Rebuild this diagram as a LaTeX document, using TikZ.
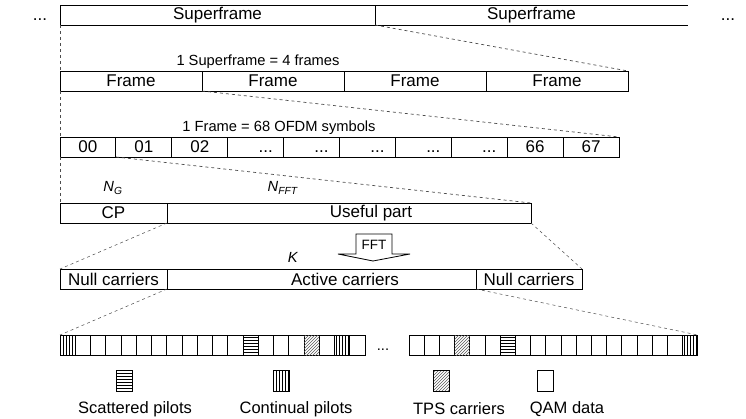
\documentclass[tikz,border=0pt]{standalone}
\usepackage{fontspec}
\setmainfont{Liberation Sans}
\usetikzlibrary{patterns}

\newcommand{\bigtxt}{\fontsize{17}{18}\selectfont}
\newcommand{\notetxt}{\fontsize{14.7}{16}\selectfont}

\begin{document}
\begin{tikzpicture}[x=1pt,y=-1pt,
  box/.style={draw,line width=0.9pt,anchor=north west,inner sep=0pt,outer sep=0pt,minimum height=20pt,font=\bigtxt},
  cell/.style={draw,line width=0.8pt,anchor=north west,inner sep=0pt,outer sep=0pt,minimum width=15.25pt,minimum height=20pt},
  scat/.style={pattern=horizontal lines},
  cont/.style={pattern=vertical lines},
  tps/.style={pattern=north east lines,pattern color=black!65},
  zoomline/.style={dashed,black!70,line width=0.7pt},
  note/.style={font=\notetxt}]
\useasboundingbox (0,0) rectangle (746,419);

% superframes
\node[box,minimum width=315pt] (sf1) at (60,5) {Superframe};
\node[box,draw=none,minimum width=313pt] (sf2) at (375,5) {Superframe};
\draw[line width=0.9pt] (sf2.north west) -- (sf2.north east) (sf2.south west) -- (sf2.south east);
\node[font=\bigtxt,anchor=base] (dotl) at (40,21) {...};
\node[font=\bigtxt,anchor=base] (dotr) at (728,21) {...};

% frames
\node[note] (sfnote) at (258,62) {1 Superframe = 4 frames};
\foreach \i in {1,...,4}
  \node[box,minimum width=142pt] (fr\i) at ({60+142*(\i-1)},71) {Frame};

% OFDM symbols
\node[note] (frnote) at (279,128) {1 Frame = 68 OFDM symbols};
\foreach \i in {1,...,10}
  \node[box,minimum width=55.9pt] (s\i) at ({60+55.9*(\i-1)},137) {};
\foreach \i/\t in {1/00,2/01,3/02,9/66,10/67}
  \node[font=\bigtxt] (lab\i) at (s\i) {\t};
\foreach \i in {4,...,8}
  \node[font=\bigtxt,anchor=base] (dots\i) at ([xshift=10pt,yshift=-6pt]s\i.center) {...};

% one symbol
\node[note] (ng) at (113,188) {\textit{N}\textsubscript{\textit{G}}};
\node[note] (nfft) at (283,188) {\textit{N}\textsubscript{\textit{FFT}}};
\node[box,minimum width=107pt] (cp) at (60,203) {CP};
\node[box,minimum width=364pt] (useful) at (167,203) {\hspace*{44pt}Useful part};

% FFT
\node[font=\fontsize{13.5}{14}\selectfont,inner sep=0pt] (fft) at (374,245) {FFT};
\draw[line width=0.8pt] (356,254) -- (356,234) -- (392,234) -- (392,254) -- (410,254) -- (373,261) -- (338,254) -- cycle;

% carriers
\node[note] (k) at (293,257) {\textit{K}};
\node[box,minimum width=107pt] (nl) at (60,269) {Null carriers};
\node[box,minimum width=309pt] (act) at (167,269) {\hspace*{47pt}Active carriers};
\node[box,minimum width=106pt] (nr) at (476,269) {Null carriers};

\foreach \i in {1,...,20}
  \node[cell] (c\i) at ({60+15.25*(\i-1)},335) {};
\foreach \i in {1,...,19}
  \node[cell,minimum width=15.2pt] (d\i) at ({409+15.2*(\i-1)},335) {};
\foreach \i/\s in {1/cont,13/scat,17/tps,19/cont}
  \fill[\s] (c\i.north west) rectangle (c\i.south east);
\foreach \i/\s in {4/tps,7/scat,19/cont}
  \fill[\s] (d\i.north west) rectangle (d\i.south east);
\node[font=\notetxt,anchor=base] (dotm) at (383,350) {...};

% zoom lines
\draw[zoomline] (sf1.south west) -- (fr1.north west);
\draw[zoomline] (sf1.south east) -- (fr4.north east);
\draw[zoomline] (fr1.south west) -- (s1.north west);
\draw[zoomline] (fr1.south east) -- (s10.north east);
\draw[zoomline] (s1.south west) -- (cp.north west);
\draw[zoomline] (s1.south east) -- (useful.north east);
\draw[zoomline,line width=0.5pt] (cp.south east) -- (nl.north west);
\draw[zoomline,line width=0.5pt] (useful.south east) -- (nr.north east);
\draw[zoomline,line width=0.5pt] (nl.south east) -- (c1.north west);
\draw[zoomline,line width=0.5pt] (nr.south west) -- (d19.north east);

% legend
\node[cell,minimum width=16pt,minimum height=21pt,scat] (lscat) at (116,370) {};
\node[cell,minimum width=16pt,minimum height=21pt,cont] (lcont) at (273,370) {};
\node[cell,minimum width=16pt,minimum height=21pt,tps] (ltps) at (433,370) {};
\node[cell,minimum width=16pt,minimum height=21pt] (lqam) at (537,370) {};
\node[font=\fontsize{16.5}{17}\selectfont] (tscat) at (135,409) {Scattered pilots};
\node[font=\fontsize{16.5}{17}\selectfont] (tcont) at (296,409) {Continual pilots};
\node[font=\fontsize{16.5}{17}\selectfont] (ttps) at (459,409) {TPS carriers};
\node[font=\fontsize{16.5}{17}\selectfont] (tqam) at (567,409) {QAM data};
\end{tikzpicture}
\end{document}
